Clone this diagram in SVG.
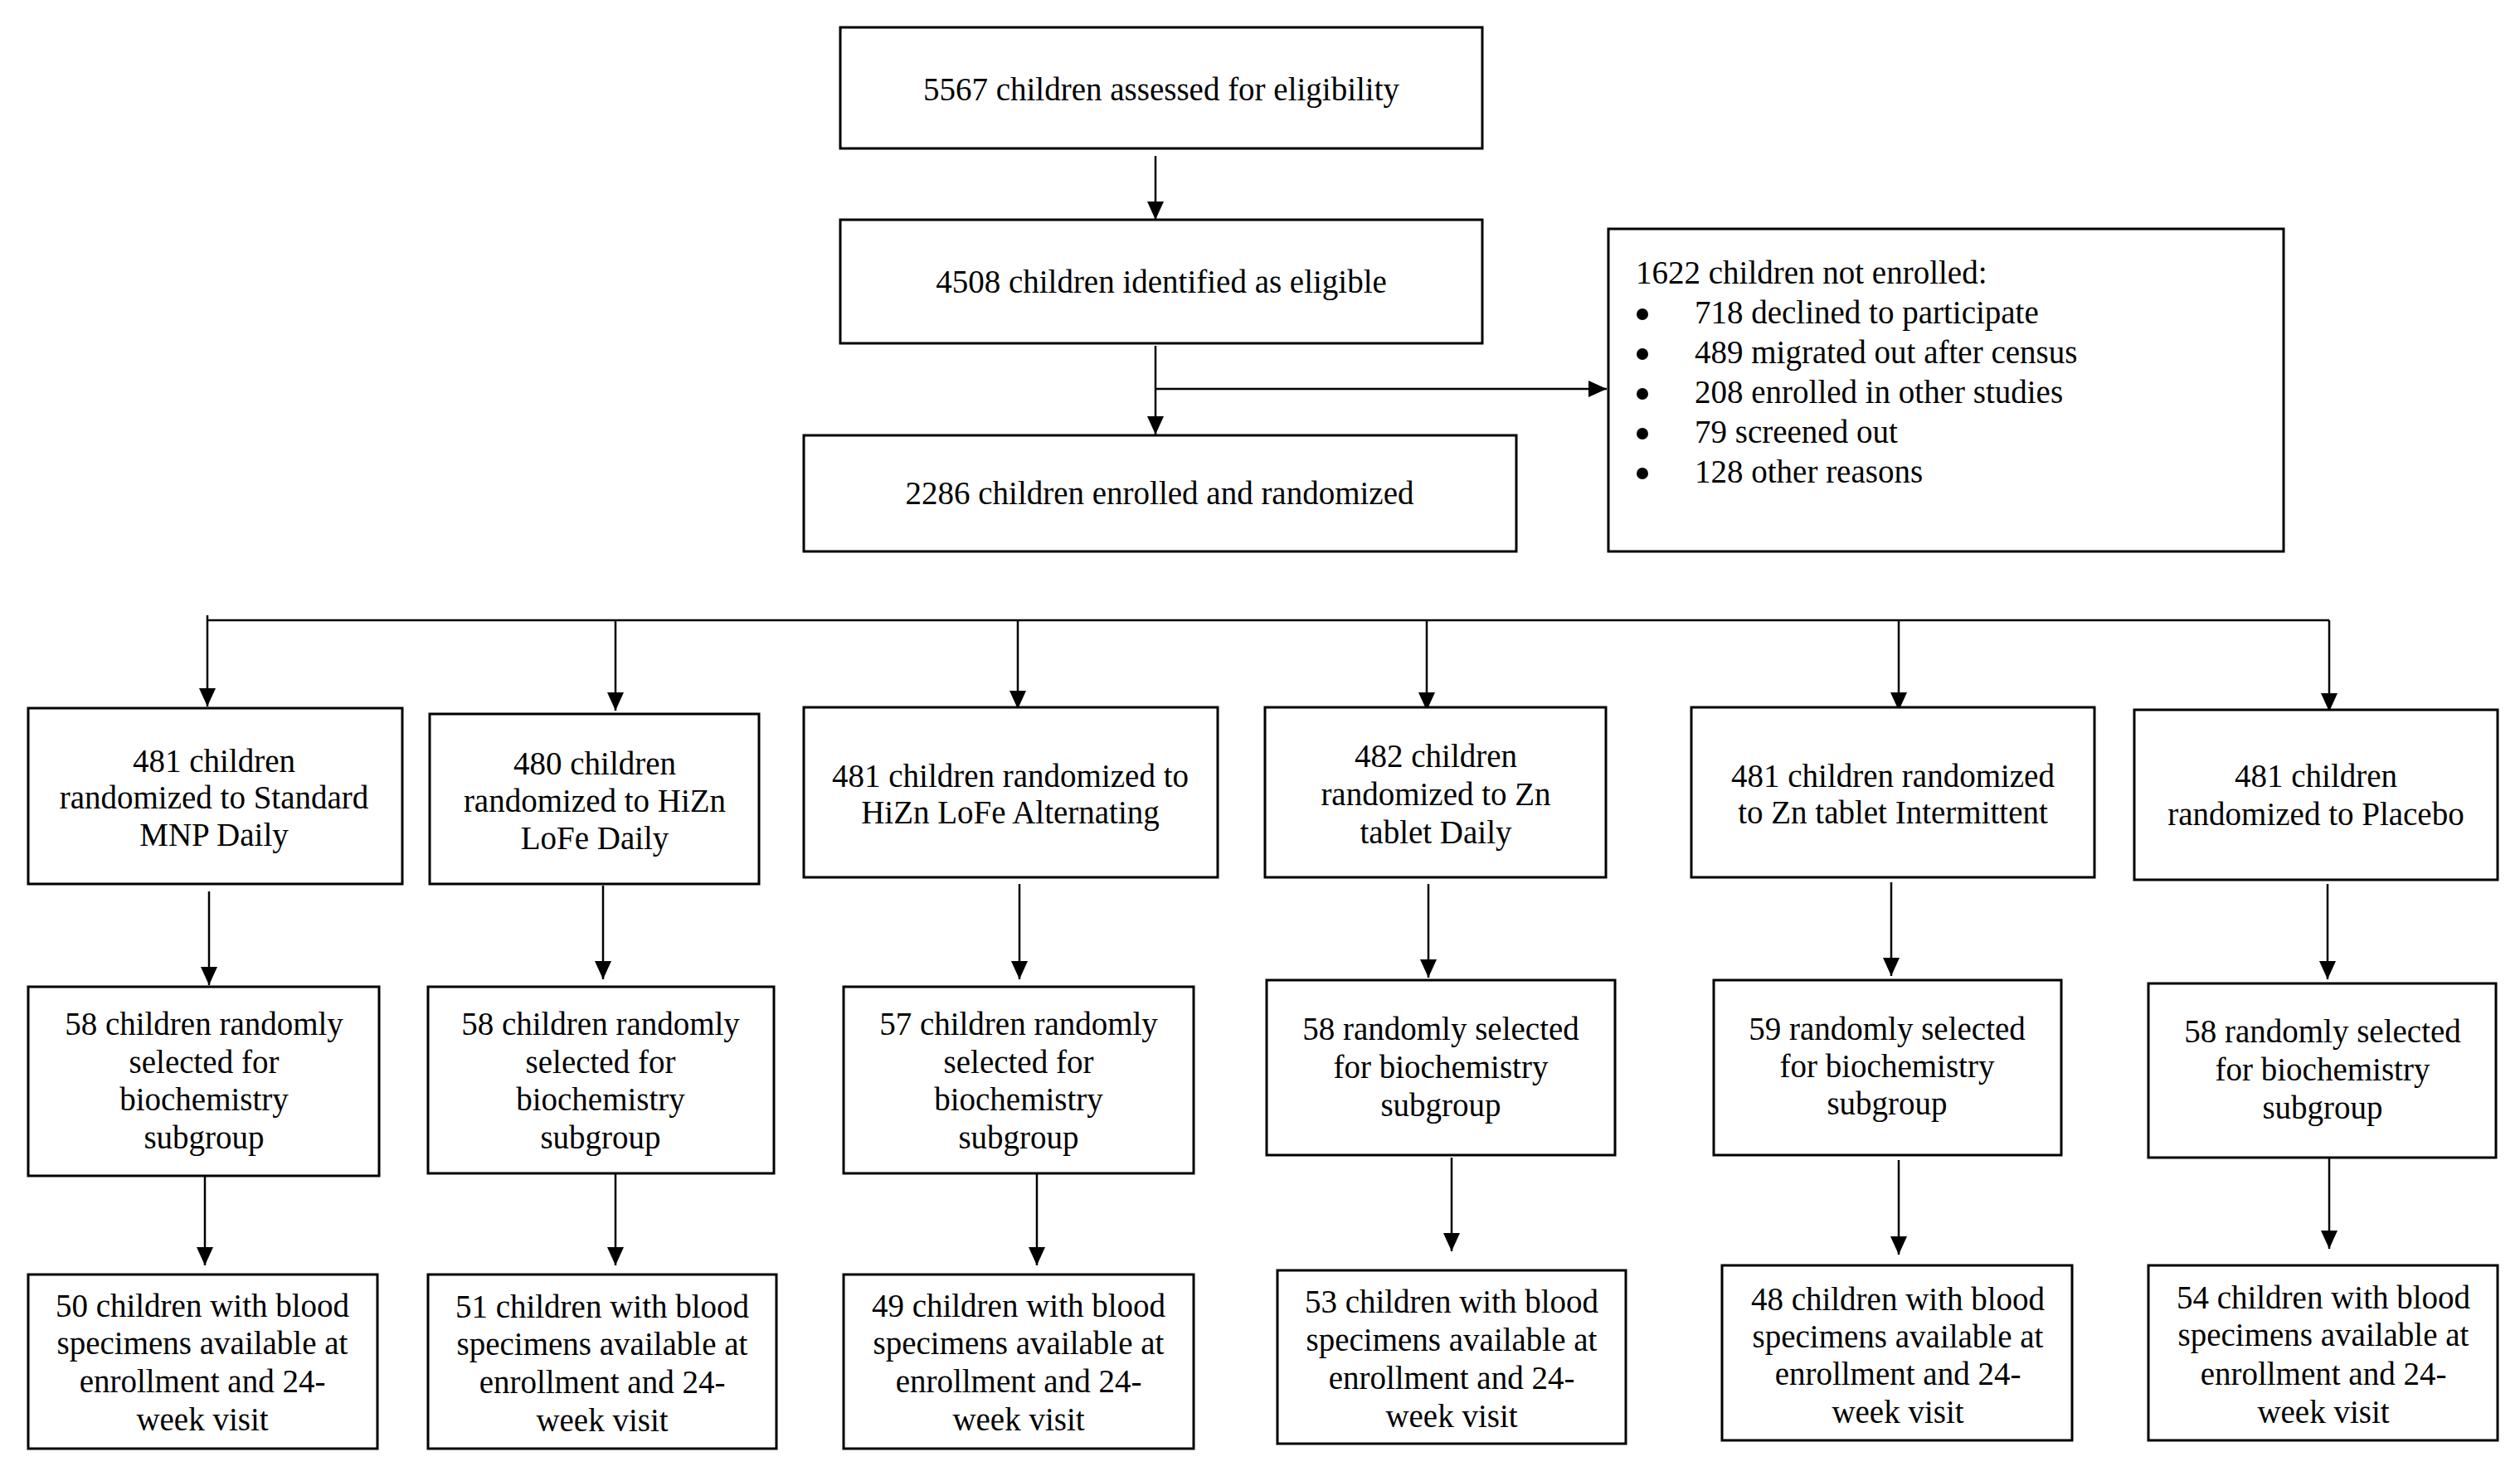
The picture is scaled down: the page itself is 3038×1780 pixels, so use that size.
<svg xmlns="http://www.w3.org/2000/svg" width="3038" height="1780" viewBox="0 0 3038 1780">
<defs>
<marker id="ah" markerUnits="userSpaceOnUse" markerWidth="22" markerHeight="22" viewBox="0 0 22 22" refX="22" refY="11" orient="auto">
<path d="M0,1 L22,11 L0,21 z" fill="#000"/>
</marker>
<style>
rect{fill:#fff;stroke:#000;stroke-width:3}
text{font-family:"Liberation Serif","Times New Roman",serif;font-size:39px;fill:#000}
.c{text-anchor:middle}
.dot{fill:#000}
#connectors path{fill:none;stroke:#000;stroke-width:2.5}
#connectors .a{marker-end:url(#ah)}
</style>
</defs>
<rect x="0" y="0" width="3038" height="1780" style="fill:#fff;stroke:none"/>
<g id="connectors">
<path class="a" d="M1393,188 V265"/>
<path class="a" d="M1393,417 V524"/>
<path class="a" d="M1393,469 H1937"/>
<path d="M250,748 H2808"/>
<path class="a" d="M250,742 V852"/>
<path class="a" d="M742,748 V857"/>
<path class="a" d="M1227,748 V855"/>
<path class="a" d="M1720,748 V857"/>
<path class="a" d="M2289,748 V857"/>
<path class="a" d="M2808,748 V858"/>
<path class="a" d="M252,1075 V1188"/>
<path class="a" d="M727,1068 V1181"/>
<path class="a" d="M1229,1066 V1181"/>
<path class="a" d="M1722,1066 V1179"/>
<path class="a" d="M2280,1064 V1177"/>
<path class="a" d="M2806,1066 V1181"/>
<path class="a" d="M247,1418 V1526"/>
<path class="a" d="M742,1416 V1526"/>
<path class="a" d="M1250,1415 V1526"/>
<path class="a" d="M1750,1396 V1509"/>
<path class="a" d="M2289,1399 V1513"/>
<path class="a" d="M2808,1396 V1506"/>
</g>
<g id="assessed">
<rect x="1013" y="33" width="774" height="146"/>
<text class="c" x="1400" y="121">5567 children assessed for eligibility</text>
</g>
<g id="eligible">
<rect x="1013" y="265" width="774" height="149"/>
<text class="c" x="1400" y="353">4508 children identified as eligible</text>
</g>
<g id="enrolled">
<rect x="969" y="525" width="859" height="140"/>
<text class="c" x="1398" y="608">2286 children enrolled and randomized</text>
</g>
<g id="notenrolled">
<rect x="1939" y="276" width="814" height="389"/>
<text x="1972" y="342">1622 children not enrolled:</text>
<circle class="dot" cx="1980" cy="379" r="7"/><text x="2043" y="390">718 declined to participate</text>
<circle class="dot" cx="1980" cy="427" r="7"/><text x="2043" y="438">489 migrated out after census</text>
<circle class="dot" cx="1980" cy="475" r="7"/><text x="2043" y="486">208 enrolled in other studies</text>
<circle class="dot" cx="1980" cy="523" r="7"/><text x="2043" y="534">79 screened out</text>
<circle class="dot" cx="1980" cy="571" r="7"/><text x="2043" y="582">128 other reasons</text>
</g>
<g id="arm1">
<rect x="34" y="854" width="451" height="212"/>
<text class="c" x="258" y="931">481 children</text>
<text class="c" x="258" y="975">randomized to Standard</text>
<text class="c" x="258" y="1020">MNP Daily</text>
</g>
<g id="arm2">
<rect x="518" y="861" width="397" height="205"/>
<text class="c" x="717" y="934">480 children</text>
<text class="c" x="717" y="979">randomized to HiZn</text>
<text class="c" x="717" y="1024">LoFe Daily</text>
</g>
<g id="arm3">
<rect x="969" y="853" width="499" height="205"/>
<text class="c" x="1218" y="949">481 children randomized to</text>
<text class="c" x="1218" y="993">HiZn LoFe Alternating</text>
</g>
<g id="arm4">
<rect x="1525" y="853" width="411" height="205"/>
<text class="c" x="1731" y="925">482 children</text>
<text class="c" x="1731" y="971">randomized to Zn</text>
<text class="c" x="1731" y="1017">tablet Daily</text>
</g>
<g id="arm5">
<rect x="2039" y="853" width="486" height="205"/>
<text class="c" x="2282" y="949">481 children randomized</text>
<text class="c" x="2282" y="993">to Zn tablet Intermittent</text>
</g>
<g id="arm6">
<rect x="2573" y="856" width="438" height="205"/>
<text class="c" x="2792" y="949">481 children</text>
<text class="c" x="2792" y="995">randomized to Placebo</text>
</g>
<g id="sub1">
<rect x="34" y="1190" width="423" height="228"/>
<text class="c" x="246" y="1248">58 children randomly</text>
<text class="c" x="246" y="1294">selected for</text>
<text class="c" x="246" y="1339">biochemistry</text>
<text class="c" x="246" y="1385">subgroup</text>
</g>
<g id="sub2">
<rect x="516" y="1190" width="417" height="225"/>
<text class="c" x="724" y="1248">58 children randomly</text>
<text class="c" x="724" y="1294">selected for</text>
<text class="c" x="724" y="1339">biochemistry</text>
<text class="c" x="724" y="1385">subgroup</text>
</g>
<g id="sub3">
<rect x="1017" y="1190" width="422" height="225"/>
<text class="c" x="1228" y="1248">57 children randomly</text>
<text class="c" x="1228" y="1294">selected for</text>
<text class="c" x="1228" y="1339">biochemistry</text>
<text class="c" x="1228" y="1385">subgroup</text>
</g>
<g id="sub4">
<rect x="1527" y="1182" width="420" height="211"/>
<text class="c" x="1737" y="1254">58 randomly selected</text>
<text class="c" x="1737" y="1300">for biochemistry</text>
<text class="c" x="1737" y="1346">subgroup</text>
</g>
<g id="sub5">
<rect x="2066" y="1182" width="419" height="211"/>
<text class="c" x="2275" y="1254">59 randomly selected</text>
<text class="c" x="2275" y="1299">for biochemistry</text>
<text class="c" x="2275" y="1344">subgroup</text>
</g>
<g id="sub6">
<rect x="2590" y="1186" width="419" height="210"/>
<text class="c" x="2800" y="1257">58 randomly selected</text>
<text class="c" x="2800" y="1303">for biochemistry</text>
<text class="c" x="2800" y="1349">subgroup</text>
</g>
<g id="blood1">
<rect x="34" y="1537" width="421" height="210"/>
<text class="c" x="244" y="1588">50 children with blood</text>
<text class="c" x="244" y="1633">specimens available at</text>
<text class="c" x="244" y="1679">enrollment and 24-</text>
<text class="c" x="244" y="1725">week visit</text>
</g>
<g id="blood2">
<rect x="516" y="1537" width="420" height="210"/>
<text class="c" x="726" y="1589">51 children with blood</text>
<text class="c" x="726" y="1634">specimens available at</text>
<text class="c" x="726" y="1680">enrollment and 24-</text>
<text class="c" x="726" y="1726">week visit</text>
</g>
<g id="blood3">
<rect x="1017" y="1537" width="422" height="210"/>
<text class="c" x="1228" y="1588">49 children with blood</text>
<text class="c" x="1228" y="1633">specimens available at</text>
<text class="c" x="1228" y="1679">enrollment and 24-</text>
<text class="c" x="1228" y="1725">week visit</text>
</g>
<g id="blood4">
<rect x="1540" y="1532" width="420" height="209"/>
<text class="c" x="1750" y="1583">53 children with blood</text>
<text class="c" x="1750" y="1629">specimens available at</text>
<text class="c" x="1750" y="1675">enrollment and 24-</text>
<text class="c" x="1750" y="1721">week visit</text>
</g>
<g id="blood5">
<rect x="2076" y="1526" width="422" height="211"/>
<text class="c" x="2288" y="1580">48 children with blood</text>
<text class="c" x="2288" y="1625">specimens available at</text>
<text class="c" x="2288" y="1670">enrollment and 24-</text>
<text class="c" x="2288" y="1716">week visit</text>
</g>
<g id="blood6">
<rect x="2590" y="1526" width="421" height="211"/>
<text class="c" x="2801" y="1578">54 children with blood</text>
<text class="c" x="2801" y="1623">specimens available at</text>
<text class="c" x="2801" y="1670">enrollment and 24-</text>
<text class="c" x="2801" y="1716">week visit</text>
</g>
</svg>
